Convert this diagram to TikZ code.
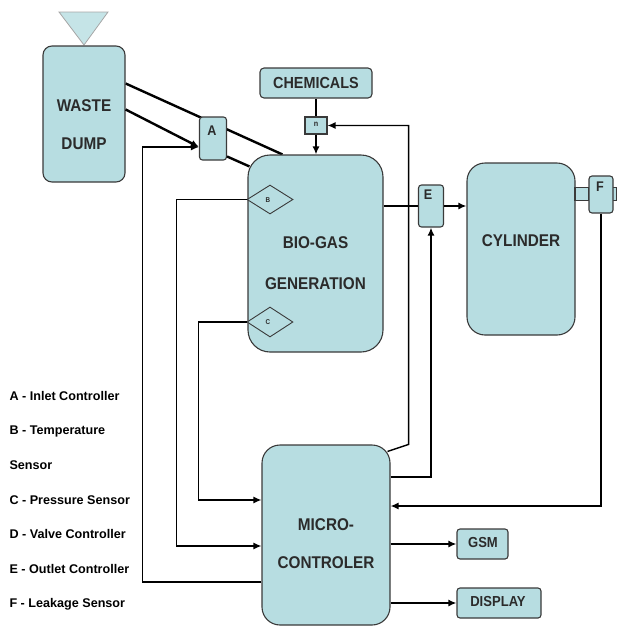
\documentclass[tikz,border=0pt]{standalone}
\usepackage{fontspec}
\setmainfont[FakeStretch=0.9]{Liberation Sans}
\newfontfamily\legfont{Liberation Sans}
\usetikzlibrary{shapes.geometric,arrows.meta,calc,backgrounds}
\definecolor{boxfill}{HTML}{B7DDE1}
\definecolor{boxline}{HTML}{3A3A3A}
\definecolor{txt}{HTML}{2B2B2B}
\begin{document}
\begin{tikzpicture}[x=1pt,y=-1pt,
  blk/.style={draw=boxline,fill=boxfill,line width=1.1pt,inner sep=0pt},
  big/.style={blk,rounded corners=18pt},
  small/.style={blk,rounded corners=3pt},
  dia/.style={draw=boxline,fill=boxfill,line width=0.9pt,diamond,inner sep=0pt,minimum width=46pt,minimum height=29pt},
  lbl/.style={text=txt,font=\bfseries\fontsize{17}{17}\selectfont},
  lblm/.style={text=txt,font=\bfseries\fontsize{14.5}{15}\selectfont},
  lbls/.style={text=txt,font=\bfseries\fontsize{14}{14}\selectfont},
  leg/.style={anchor=west,text=black,font=\legfont\bfseries\fontsize{12.6}{13}\selectfont},
  thk/.style={line width=2.4pt},
  thn/.style={line width=1.4pt},
  arr/.style={-{Latex[length=8pt,width=7pt]}},
]
\useasboundingbox (0,0) rectangle (617,627);
% funnel
\draw[draw=boxline!45,fill=boxfill!80,line width=0.8pt] (59,12) -- (108,12) -- (84,45) -- cycle;
% blocks
\node[big,rounded corners=9pt,minimum width=82pt,minimum height=136pt] (waste) at (84,114) {};
\node[lbl] (wasteT1) at (84,106) {WASTE};
\node[lbl] (wasteT2) at (84,144) {DUMP};
\node[small,minimum width=27pt,minimum height=43pt] (A) at (213,138.5) {};
\node[lbls] (AT) at (212,131) {A};
\node[small,rounded corners=4pt,minimum width=112pt,minimum height=30pt] (chem) at (316,83) {};
\node[lblm,font=\bfseries\fontsize{16}{16}\selectfont] (chemT) at (316,83) {CHEMICALS};
\node[blk,minimum width=22pt,minimum height=17pt] (D) at (316,125.5) {};
\node[text=txt,font=\bfseries\fontsize{8}{8}\selectfont] (DT) at (316,124) {n};
\node[big,rounded corners=22pt,minimum width=135pt,minimum height=197pt] (bio) at (315.5,253.5) {};
\node[lbl] (bioT1) at (315.5,243) {BIO-GAS};
\node[lbl] (bioT2) at (315.5,284) {GENERATION};
\node[dia] (B) at (270,199.5) {};
\node[text=txt,font=\bfseries\fontsize{7}{7}\selectfont] (BT) at (268,200) {B};
\node[dia,minimum height=30pt] (C) at (270,322) {};
\node[text=txt,font=\bfseries\fontsize{7}{7}\selectfont] (CT) at (268,322) {C};
\node[small,minimum width=25pt,minimum height=42pt] (E) at (431,206) {};
\node[lbls] (ET) at (428,195) {E};
\node[big,minimum width=108pt,minimum height=172pt] (cyl) at (521,249) {};
\node[lbl] (cylT) at (521,241) {CYLINDER};
\node[blk,minimum width=14pt,minimum height=13pt] (pipe) at (582,194) {};
\node[blk,minimum width=4pt,minimum height=13pt] (stub) at (614.5,194) {};
\node[small,minimum width=24pt,minimum height=37pt] (F) at (601,194.5) {};
\node[lbls] (FT) at (600,187) {F};
\node[big,minimum width=128pt,minimum height=180pt] (micro) at (326,535) {};
\node[lbl] (microT1) at (326,525) {MICRO-};
\node[lbl] (microT2) at (326,563) {CONTROLER};
\node[small,minimum width=51pt,minimum height=30pt] (gsm) at (482.5,544) {};
\node[lblm] (gsmT) at (483,543) {GSM};
\node[small,minimum width=84pt,minimum height=30pt] (disp) at (499,603) {};
\node[lblm] (dispT) at (498,602) {DISPLAY};
% legend
\node[leg] (l1) at (6,396) {A - Inlet Controller};
\node[leg] (l2) at (6,431) {B - Temperature};
\node[leg] (l3) at (6,465) {Sensor};
\node[leg] (l4) at (6,500) {C - Pressure Sensor};
\node[leg] (l5) at (6,534) {D - Valve Controller};
\node[leg] (l6) at (6,569) {E - Outlet Controller};
\node[leg] (l7) at (6,604) {F - Leakage Sensor};
% connectors
\begin{pgfonlayer}{background}
\draw[thk] ($(waste.north east)+(0,38)$) -- ($(bio.north west)+(35,0)$);
\end{pgfonlayer}
\draw[thk,arr] ($(waste.north east)+(0,64)$) -- ($(A.west)+(0,8.5)$);
\draw[thk] ($(A.east)+(0,18)$) -- ($(bio.north west)+(2,12)$);
\draw[thn,arr] ($(micro.west)+(0,47)$) -- ++(-119,0) |- ($(A.west)+(0,8.5)$);
\draw[thk] (chem.south) -- (D.north);
\draw[thk,arr] (D.south) -- (D.south |- bio.north);
\draw[thn,arr] ($(micro.north east)+(-3,7)$) -- ++(21,-7) |- (D.east);
\draw[thk] (bio.east |- E.west) -- (E.west);
\draw[thk,arr] (E.east) -- (E.east -| cyl.west);
\draw[thk,arr] ($(micro.east)+(0,-58)$) -| (E.south);
\draw[thn,arr] (F.south) |- ($(micro.east)+(0,-29)$);
\draw[thn,arr] (B.west) -- ++(-70,0) |- ($(micro.west)+(0,11)$);
\draw[thn,arr] (C.west) -- ++(-48,0) |- ($(micro.west)+(0,-35)$);
\draw[thk,arr] (gsm.west -| micro.east) -- (gsm.west);
\draw[thk,arr] (disp.west -| micro.east) -- (disp.west);
\end{tikzpicture}
\end{document}
